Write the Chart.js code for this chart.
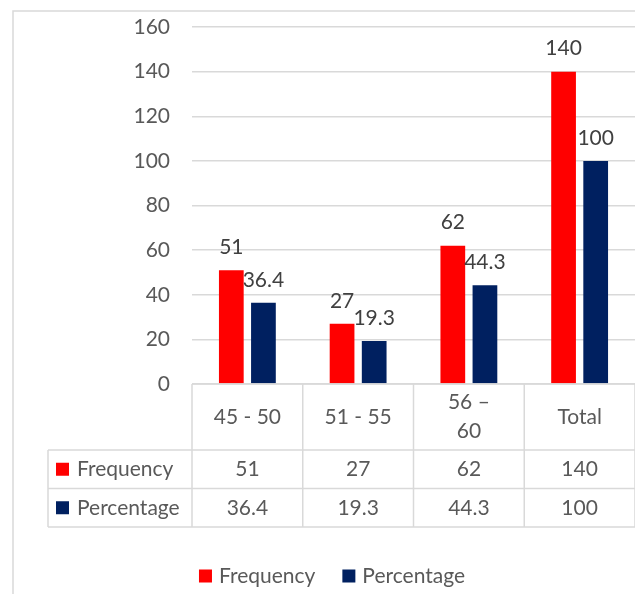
<!DOCTYPE html>
<html>
<head>
<meta charset="utf-8">
<script src="https://cdn.jsdelivr.net/npm/chart.js@4.4.1/dist/chart.umd.min.js"></script>
<style>
  html, body { margin: 0; padding: 0; background: #fff; overflow: hidden; }
  #wrap { position: relative; width: 635px; height: 594px; }
</style>
</head>
<body>
<div id="wrap"><canvas id="c"></canvas></div>
<script>
// Age groups and their counts / shares
const categories = ['45 - 50', '51 - 55', ['56 –', '60'], 'Total'];
const seriesNames = ['Frequency', 'Percentage'];
const frequency = [51, 27, 62, 140];
const percentage = [36.4, 19.3, 44.3, 100];
const yTickValues = [0, 20, 40, 60, 80, 100, 120, 140, 160];

const COLORS = ['#ff0000', '#002060'];
const FONT = 'Lato, "Liberation Sans", sans-serif';
const SIZE = 21;
const TEXT = '#595959';
const LABEL = '#404040';
const LINE = '#d9d9d9';

// data table under the plot
const HEADER_H = 66, ROW_H = 38.5, TABLE_LEFT = 48, KEY = 13;
const LEGEND_CENTER = 332, LEGEND_Y = 576;
const PLOT_TOP = 27, PLOT_BOTTOM = 384;

const font = (s) => `${s}px ${FONT}`;

const tablePlugin = {
  id: 'dataTable',
  beforeDraw(chart) {
    const ctx = chart.ctx;
    ctx.save();
    ctx.strokeStyle = LINE;
    ctx.lineWidth = 1.5;
    ctx.beginPath();
    ctx.moveTo(13, chart.height);
    ctx.lineTo(13, 11);
    ctx.lineTo(chart.width, 11);
    ctx.stroke();
    ctx.restore();
  },
  afterDraw(chart) {
    const { ctx, chartArea: a, scales: { x } } = chart;
    const n = categories.length;
    const half = (x.getPixelForValue(1) - x.getPixelForValue(0)) / 2;
    const edges = [];
    for (let i = 0; i < n; i++) edges.push(x.getPixelForValue(i) - half);
    edges.push(x.getPixelForValue(n - 1) + half);
    const top = a.bottom, r1 = top + HEADER_H, r2 = r1 + ROW_H, r3 = r2 + ROW_H;
    const right = chart.width;

    ctx.save();
    ctx.strokeStyle = LINE;
    ctx.lineWidth = 1.5;
    ctx.beginPath();
    ctx.moveTo(edges[0], top); ctx.lineTo(right, top);
    [r1, r2, r3].forEach(y => { ctx.moveTo(TABLE_LEFT, y); ctx.lineTo(right, y); });
    edges.forEach(ex => { ctx.moveTo(ex, top); ctx.lineTo(ex, r3); });
    ctx.moveTo(TABLE_LEFT, r1); ctx.lineTo(TABLE_LEFT, r3);
    ctx.stroke();

    ctx.font = font(SIZE);
    ctx.fillStyle = TEXT;
    ctx.textAlign = 'center';
    ctx.textBaseline = 'middle';

    // header: category names
    const lh = 29;
    categories.forEach((c, i) => {
      const lines = Array.isArray(c) ? c : [c];
      const cx = x.getPixelForValue(i);
      const cy = (top + r1) / 2;
      lines.forEach((t, k) => {
        ctx.fillText(t, cx, cy + (k - (lines.length - 1) / 2) * lh);
      });
    });

    // body rows
    const rows = [frequency, percentage];
    const rowTops = [r1, r2];
    rows.forEach((vals, j) => {
      const cy = rowTops[j] + ROW_H / 2;
      ctx.fillStyle = COLORS[j];
      ctx.fillRect(56, cy - KEY / 2, KEY, KEY);
      ctx.fillStyle = TEXT;
      ctx.textAlign = 'left';
      ctx.fillText(seriesNames[j], 77, cy);
      ctx.textAlign = 'center';
      vals.forEach((v, i) => ctx.fillText(String(v), x.getPixelForValue(i), cy));
    });

    // legend
    const gap = 7, sep = 27;
    const widths = seriesNames.map(s => KEY + gap + ctx.measureText(s).width);
    const total = widths[0] + sep + widths[1];
    let lx = LEGEND_CENTER - total / 2;
    ctx.textAlign = 'left';
    seriesNames.forEach((s, j) => {
      ctx.fillStyle = COLORS[j];
      ctx.fillRect(lx, LEGEND_Y - KEY / 2, KEY, KEY);
      ctx.fillStyle = TEXT;
      ctx.fillText(s, lx + KEY + gap, LEGEND_Y);
      lx += widths[j] + sep;
    });
    ctx.restore();
  },
  afterDatasetsDraw(chart) {
    const ctx = chart.ctx;
    ctx.save();
    ctx.font = font(SIZE);
    ctx.fillStyle = LABEL;
    ctx.textAlign = 'center';
    ctx.textBaseline = 'middle';
    chart.data.datasets.forEach((ds, j) => {
      chart.getDatasetMeta(j).data.forEach((bar, i) => {
        ctx.fillText(String(ds.data[i]), bar.x, bar.y - 23);
      });
    });
    ctx.restore();
  }
};

new Chart(document.getElementById('c'), {
  type: 'bar',
  data: {
    labels: categories,
    datasets: [
      { label: seriesNames[0], data: frequency, backgroundColor: COLORS[0] },
      { label: seriesNames[1], data: percentage, backgroundColor: COLORS[1] }
    ]
  },
  options: {
    responsive: true,
    maintainAspectRatio: false,
    animation: false,
    devicePixelRatio: 1,
    layout: { padding: { top: PLOT_TOP, bottom: 594 - PLOT_BOTTOM, left: 0, right: 0 } },
    datasets: { bar: { categoryPercentage: 0.58, barPercentage: 0.77 } },
    plugins: { legend: { display: false }, tooltip: { enabled: false } },
    scales: {
      x: { display: false },
      y: {
        min: 0,
        max: 160,
        afterBuildTicks(scale) { scale.ticks = yTickValues.map(v => ({ value: v })); },
        afterFit(scale) {
          scale.width = 192;
          scale.paddingTop = 0;
          scale.paddingBottom = 0;
        },
        border: { display: false },
        grid: { color: LINE, lineWidth: 1.5, drawTicks: false },
        ticks: { padding: 22, color: TEXT, font: { family: FONT, size: SIZE } }
      }
    }
  },
  plugins: [tablePlugin]
});
</script>
</body>
</html>
